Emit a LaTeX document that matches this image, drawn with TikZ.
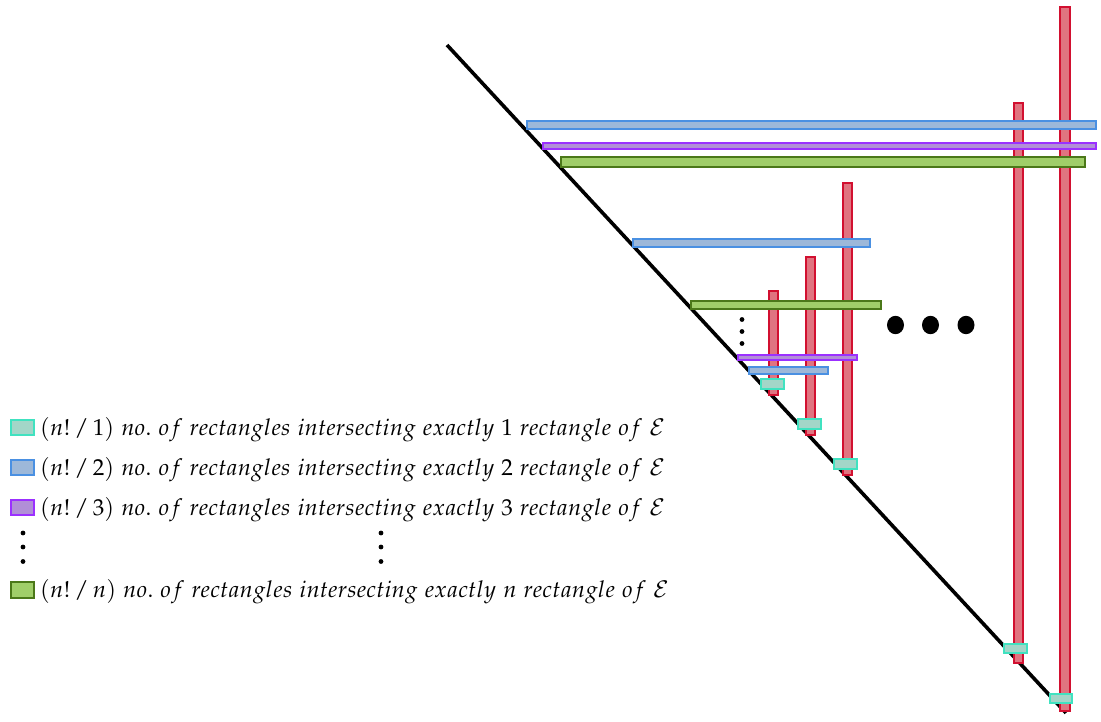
\documentclass[tikz,border=0pt]{standalone}
\usepackage{mathpazo}
\definecolor{barline}{RGB}{210,16,48}
\definecolor{barfill}{RGB}{224,116,128}
\definecolor{oneline}{RGB}{64,226,192}
\definecolor{onefill}{RGB}{163,214,200}
\definecolor{twoline}{RGB}{74,144,226}
\definecolor{twofill}{RGB}{157,184,217}
\definecolor{threeline}{RGB}{155,48,255}
\definecolor{threefill}{RGB}{177,143,215}
\definecolor{nline}{RGB}{75,120,25}
\definecolor{nfill}{RGB}{160,206,105}
\tikzset{
  vbar/.style={draw=barline, fill=barfill, line width=1.6pt},
  onebox/.style={draw=oneline, fill=onefill, line width=1.6pt},
  twobox/.style={draw=twoline, fill=twofill, line width=1.6pt},
  threebox/.style={draw=threeline, fill=threefill, line width=1.6pt},
  nbox/.style={draw=nline, fill=nfill, line width=1.6pt},
  legendtext/.style={anchor=base west, inner sep=0pt, font=\fontsize{23.1}{26}\selectfont},
}
\begin{document}
\begin{tikzpicture}[x=1pt, y=-1pt]
\useasboundingbox (0,0) rectangle (1101,722);

% diagonal boundary
\draw[line width=3.6pt] (447,45) -- (1066,713);

% vertical bars
\draw[vbar] (1014,103) rectangle (1023,663);
\draw[vbar] (1060,7) rectangle (1070,711);
\draw[vbar] (769,291) rectangle (778,395);
\draw[vbar] (806,257) rectangle (815,435);
\draw[vbar] (843,183) rectangle (852,475);

% upper group of horizontal bars
\draw[twobox]   (527,121) rectangle (1096,129);
\draw[threebox] (543,143) rectangle (1096,149);
\draw[nbox]     (561,157) rectangle (1085,167);

% middle group
\draw[twobox]   (633,239) rectangle (870,247);
\draw[nbox]     (691,301) rectangle (881,309);
\draw[threebox] (738,355) rectangle (857,360);
\draw[twobox]   (749,367) rectangle (828,374);

% single-intersection boxes at the foot of each bar
\draw[onebox] (761,379) rectangle (784,389);
\draw[onebox] (798,419) rectangle (821,429);
\draw[onebox] (834,459) rectangle (857,469);
\draw[onebox] (1004,644) rectangle (1027,653);
\draw[onebox] (1050,694) rectangle (1072,703);

% ellipses
\foreach \yy in {319.5,331.5,343.5} \fill (742,\yy) circle (2.4);
\foreach \xx in {895.5,930.5,966} \fill (\xx,325) ellipse (8.5 and 9.2);

% legend
\draw[onebox]   (11,420) rectangle (34,435);
\draw[twobox]   (11,460) rectangle (34,475);
\draw[threebox] (11,500) rectangle (34,515);
\draw[nbox]     (11,582) rectangle (34,598);

\node[legendtext] (l1) at (40,435) {$(n!\,/\,1)\ no.\ of\ rectangles\ intersecting\ exactly\ 1\ rectangle\ of\ \mathcal{E}$};
\node[legendtext] (l2) at (40,475) {$(n!\,/\,2)\ no.\ of\ rectangles\ intersecting\ exactly\ 2\ rectangle\ of\ \mathcal{E}$};
\node[legendtext] (l3) at (40,515) {$(n!\,/\,3)\ no.\ of\ rectangles\ intersecting\ exactly\ 3\ rectangle\ of\ \mathcal{E}$};
\node[legendtext] (ln) at (40,597) {$(n!\,/\,n)\ no.\ of\ rectangles\ intersecting\ exactly\ n\ rectangle\ of\ \mathcal{E}$};

\foreach \yy in {533,547,561.5} {
  \fill (23,\yy) circle (2.4);
  \fill (381,\yy) circle (2.4);
}
\end{tikzpicture}
\end{document}
